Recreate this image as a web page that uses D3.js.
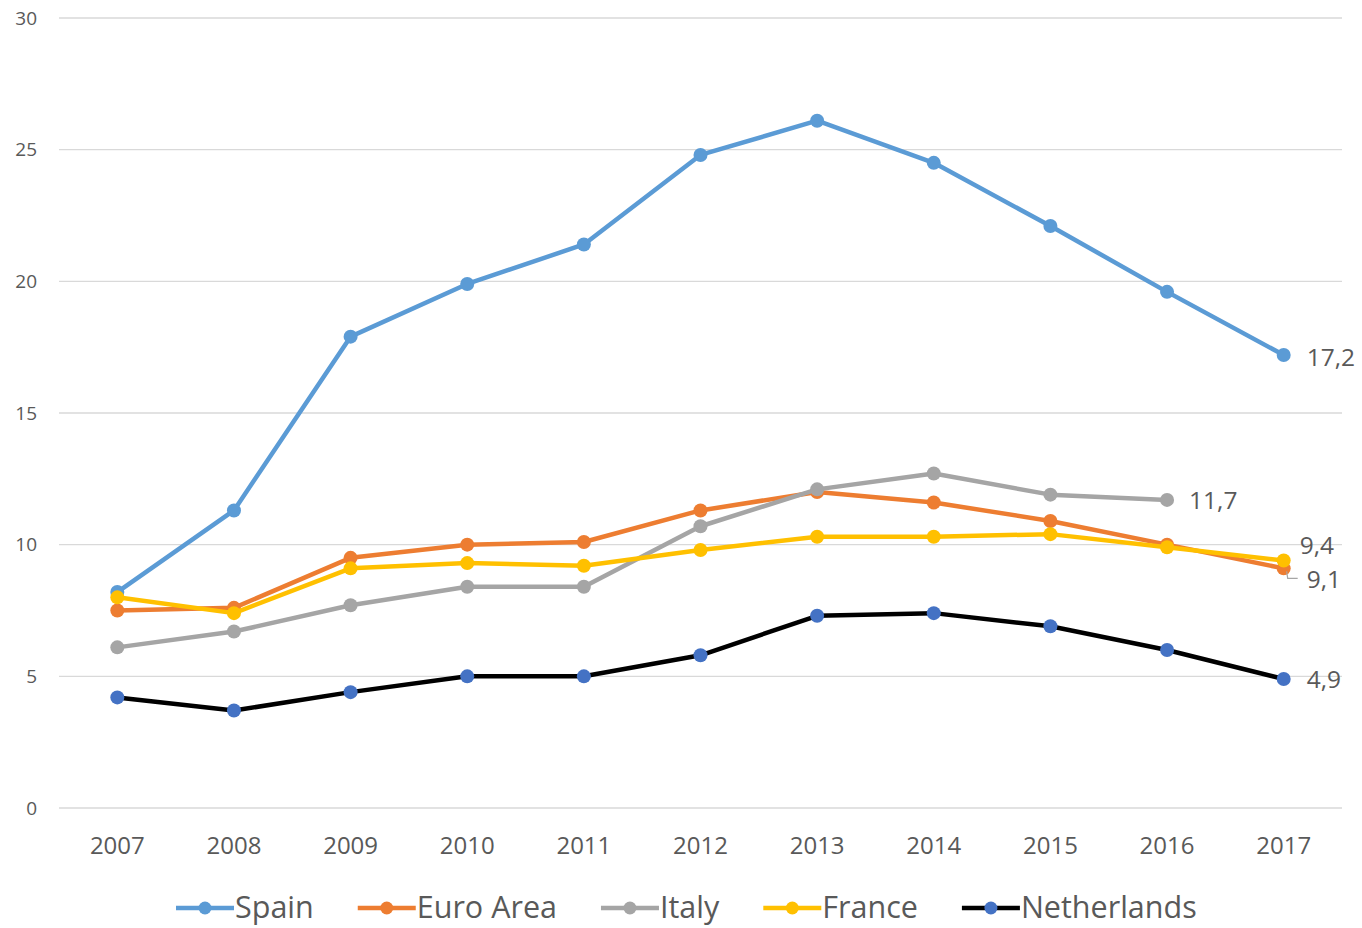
<!DOCTYPE html>
<html><head><meta charset="utf-8">
<script src="https://cdn.jsdelivr.net/npm/d3@7"></script>
<style>body{margin:0;background:#fff}svg{display:block}text{font-family:"Open Sans",sans-serif;fill:#595959}</style>
</head><body>
<svg id="c" width="1362" height="928"></svg>
<script>
const years = ["2007","2008","2009","2010","2011","2012","2013","2014","2015","2016","2017"];
const spain = [8.2,11.3,17.9,19.9,21.4,24.8,26.1,24.5,22.1,19.6,17.2];
const euroArea = [7.5,7.6,9.5,10.0,10.1,11.3,12.0,11.6,10.9,10.0,9.1];
const italy = [6.1,6.7,7.7,8.4,8.4,10.7,12.1,12.7,11.9,11.7,null];
const france = [8.0,7.4,9.1,9.3,9.2,9.8,10.3,10.3,10.4,9.9,9.4];
const netherlands = [4.2,3.7,4.4,5.0,5.0,5.8,7.3,7.4,6.9,6.0,4.9];
const yTicks = [0,5,10,15,20,25,30];
const seriesNames = ["Spain","Euro Area","Italy","France","Netherlands"];
const lineColors = ["#5B9BD5","#ED7D31","#A5A5A5","#FFC000","#000000"];
const markerColors = ["#5B9BD5","#ED7D31","#A5A5A5","#FFC000","#4472C4"];
const seriesValues = [spain,euroArea,italy,france,netherlands];

const svg = d3.select("#c");
const x = d3.scaleBand().domain(years).range([59,1342]);
const y = d3.scaleLinear().domain([0,30]).range([808,18]);
const cx = d => x(d) + x.bandwidth()/2;

// gridlines
svg.append("g").selectAll("line").data(yTicks).join("line")
  .attr("x1",59).attr("x2",1342).attr("y1",d=>y(d)).attr("y2",d=>y(d))
  .attr("stroke","#D9D9D9").attr("stroke-width",1.3);

// y axis labels
const ya = svg.append("g").attr("transform","translate(37,0)")
  .call(d3.axisLeft(y).tickValues(yTicks).tickSize(0).tickPadding(0));
ya.select(".domain").remove();
ya.selectAll("text").attr("font-size",19).attr("fill","#595959").style("font-family","'Open Sans',sans-serif");

// x axis labels
const xa = svg.append("g").attr("transform","translate(0,808)")
  .call(d3.axisBottom(x).tickSize(0).tickPadding(29));
xa.select(".domain").remove();
xa.selectAll("text").attr("font-size",24).attr("fill","#595959").style("font-family","'Open Sans',sans-serif");

const data = seriesNames.map((n,i)=>({name:n,line:lineColors[i],marker:markerColors[i],
  pts:years.map((yr,j)=>({yr,v:seriesValues[i][j]})).filter(p=>p.v!=null)}));

const line = d3.line().x(d=>cx(d.yr)).y(d=>y(d.v));
data.forEach(s=>{
  const g = svg.append("g");
  g.append("path").attr("d",line(s.pts)).attr("fill","none").attr("stroke",s.line)
    .attr("stroke-width",4.5).attr("stroke-linejoin","round").attr("stroke-linecap","round");
  g.selectAll("circle").data(s.pts).join("circle")
    .attr("cx",d=>cx(d.yr)).attr("cy",d=>y(d.v)).attr("r",7).attr("fill",s.marker);
});

// data labels
const last = (arr)=>{ for(let i=arr.length-1;i>=0;i--) if(arr[i]!=null) return {yr:years[i],v:arr[i]}; };
const fmt = v => String(v.toFixed(1)).replace(".",",");
const lbl = (arr,dx,dy)=>{ const p=last(arr);
  svg.append("text").attr("x",cx(p.yr)+dx).attr("y",y(p.v)+dy).attr("dy","0.35em")
    .attr("font-size",24.5).attr("fill","#404040").text(fmt(p.v)); return p; };
lbl(spain,23,2);
lbl(italy,22,1);
lbl(france,16,-15);
const pe = lbl(euroArea,23,11);
lbl(netherlands,23,0);
// leader line for euro area
svg.append("path").attr("d",`M${cx(pe.yr)+3},${y(pe.v)+3} L${cx(pe.yr)+4},${y(pe.v)+10} L${cx(pe.yr)+14},${y(pe.v)+10}`)
  .attr("fill","none").attr("stroke","#A6A6A6").attr("stroke-width",1.2);

// legend
const lg = svg.append("g");
let lx = 176; const ly = 908;
data.forEach(s=>{
  const it = lg.append("g").attr("transform",`translate(${lx},${ly})`);
  it.append("line").attr("x1",0).attr("x2",58).attr("y1",0).attr("y2",0).attr("stroke",s.line).attr("stroke-width",4.5);
  it.append("circle").attr("cx",29).attr("cy",0).attr("r",6.5).attr("fill",s.marker);
  const t = it.append("text").attr("x",59).attr("y",0).attr("dy","0.34em").attr("font-size",30.5).text(s.name);
  lx += 59 + t.node().getComputedTextLength() + 44;
});
</script>
</body></html>
